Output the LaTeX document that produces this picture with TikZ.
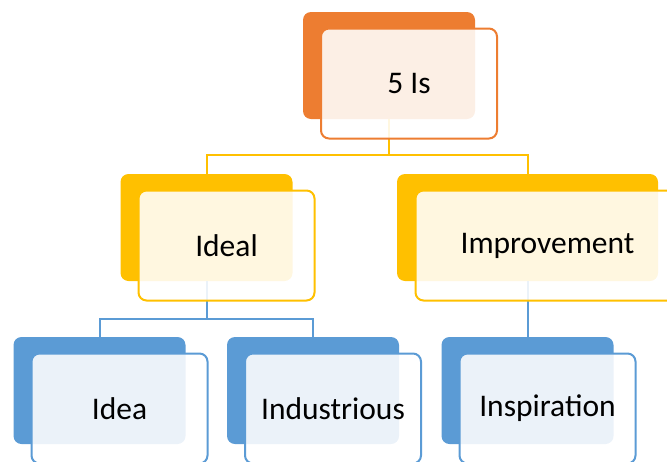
\documentclass[tikz,border=0pt]{standalone}
\usepackage{fontspec}
\setmainfont{Carlito}
\definecolor{topOrange}{HTML}{ED7D31}
\definecolor{midGold}{HTML}{FFC000}
\definecolor{lowBlue}{HTML}{5B9BD5}
\tikzset{
  backbox/.style={fill=#1, rounded corners=8pt, minimum width=172pt, minimum height=107pt, inner sep=0pt},
  frontbox/.style={draw=#1, line width=2pt, fill=white, fill opacity=0.88, text opacity=1, rounded corners=8pt, minimum width=176pt, minimum height=110pt, inner sep=0pt, font=\fontsize{31.5}{36}\selectfont},
  link/.style={draw=#1, line width=2pt}
}

\begin{document}
\begin{tikzpicture}[x=1pt, y=-1pt]
			%%%%% START %%%%%
			\useasboundingbox (0, 0) rectangle (667, 461);
			
			% back plates
			\node[backbox=topOrange] (rootb) at (389, 65.5) {};
			\node[backbox=midGold] (idealb) at (206.5, 227.5) {};
			\node[backbox=midGold, minimum width=261pt] (imprb) at (527.5, 227.5) {};
			\node[backbox=lowBlue] (ideab) at (99.5, 390.5) {};
			\node[backbox=lowBlue] (indb) at (313, 390.5) {};
			\node[backbox=lowBlue] (inspb) at (527.5, 390.5) {};
			
			% connectors
			\draw[link=midGold] (rootb.south) -- ++(0, 36) -| (idealb.north);
			\draw[link=midGold] (rootb.south) -- ++(0, 36) -| (imprb.north);
			\draw[link=lowBlue] (idealb.south) -- ++(0, 38) -| (ideab.north);
			\draw[link=lowBlue] (idealb.south) -- ++(0, 38) -| (indb.north);
			\draw[link=lowBlue] (imprb.south) -- (inspb.north);
			
			% front cards
			\node[frontbox=topOrange] (root) at ([shift={(20, 18)}]rootb.center) {5 Is};
			\node[frontbox=midGold] (ideal) at ([shift={(20, 18)}]idealb.center) {Ideal};
			\node[frontbox=midGold, minimum width=264pt] (impr) at ([shift={(20, 18)}]imprb.center) {Improvement};
			\node[frontbox=lowBlue] (idea) at ([shift={(20, 18)}]ideab.center) {Idea};
			\node[frontbox=lowBlue] (ind) at ([shift={(20, 18)}]indb.center) {Industrious};
			\node[frontbox=lowBlue] (insp) at ([shift={(20, 18)}]inspb.center) {Inspiration};
			
			%%%%% END %%%%%
		\end{tikzpicture}
\end{document}
